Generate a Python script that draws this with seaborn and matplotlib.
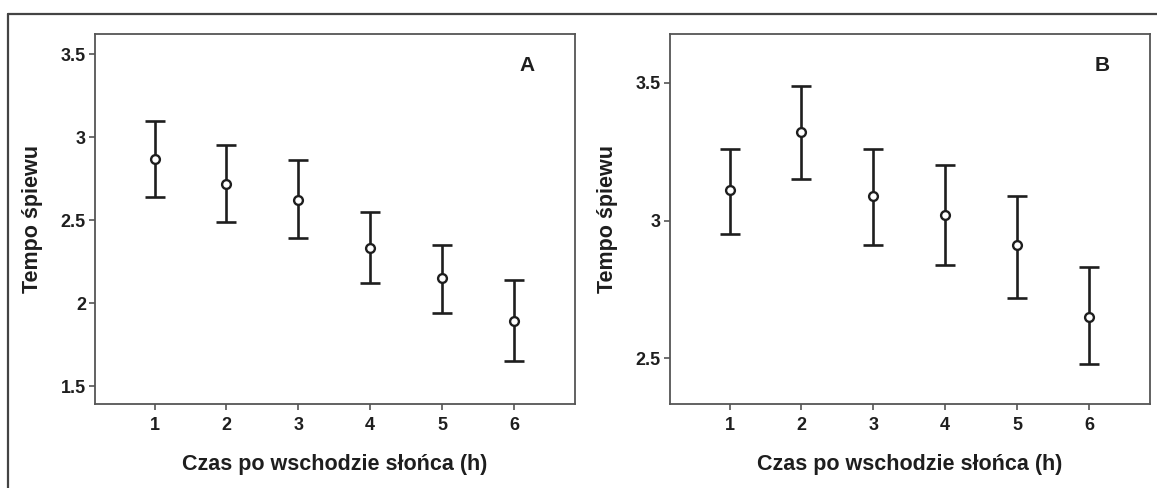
import matplotlib
matplotlib.use("Agg")
import matplotlib.pyplot as plt
from matplotlib.lines import Line2D
import numpy as np
import pandas as pd
import seaborn as sns

# Hours after sunrise
hours = [1, 2, 3, 4, 5, 6]

# Panel A: mean song rate with interval bounds
a_mean = [2.87, 2.72, 2.62, 2.33, 2.15, 1.89]
a_lower = [2.64, 2.49, 2.39, 2.12, 1.94, 1.65]
a_upper = [3.10, 2.95, 2.86, 2.55, 2.35, 2.14]

# Panel B: mean song rate with interval bounds
b_mean = [3.11, 3.32, 3.09, 3.02, 2.91, 2.65]
b_lower = [2.95, 3.15, 2.91, 2.84, 2.72, 2.48]
b_upper = [3.26, 3.49, 3.26, 3.20, 3.09, 2.83]

a_yticks = [1.5, 2, 2.5, 3, 3.5]
a_yticklabels = ["1.5", "2", "2.5", "3", "3.5"]
b_yticks = [2.5, 3, 3.5]
b_yticklabels = ["2.5", "3", "3.5"]

xlabel = "Czas po wschodzie słońca (h)"
ylabel = "Tempo śpiewu"

sns.set_theme(style="ticks")
plt.rcParams["font.family"] = ["Liberation Sans", "DejaVu Sans"]
plt.rcParams["font.weight"] = "bold"

W, H = 1157, 488
fig = plt.figure(figsize=(W / 100, H / 100), dpi=100)
fig.patch.set_facecolor("white")

frame_col = "#555555"
ink = "#1e1e1e"


def px_axes(left, top, right, bottom):
    return fig.add_axes([left / W, 1 - bottom / H, (right - left) / W, (bottom - top) / H])


def draw_panel(ax, mean, lower, upper, ylim, yticks, yticklabels, letter):
    df = pd.DataFrame({"h": hours, "m": mean, "lo": lower, "hi": upper})
    err = np.vstack([df["m"] - df["lo"], df["hi"] - df["m"]])
    ax.errorbar(df["h"], df["m"], yerr=err, fmt="none", ecolor=ink,
                elinewidth=1.9, capsize=7, capthick=1.9, zorder=2)
    sns.scatterplot(data=df, x="h", y="m", ax=ax, marker="o", s=40,
                    facecolor="white", edgecolor=ink, linewidth=1.7, zorder=3)
    ax.set_xlim(0.17, 6.85)
    ax.set_ylim(*ylim)
    ax.set_xticks(hours)
    ax.set_xticklabels([str(h) for h in hours])
    ax.set_yticks(yticks)
    ax.set_yticklabels(yticklabels)
    for s in ax.spines.values():
        s.set_color(frame_col)
        s.set_linewidth(1.3)
    ax.tick_params(axis="both", direction="out", length=4, width=1.2,
                   color=frame_col, labelsize=13, labelcolor=ink, pad=2.5)
    for lab in ax.get_xticklabels() + ax.get_yticklabels():
        lab.set_fontweight("bold")
    ax.tick_params(axis="x", pad=5)
    ax.set_xlabel(xlabel, fontsize=15.5, fontweight="bold", color=ink, labelpad=15)
    ax.set_ylabel(ylabel, fontsize=15.5, fontweight="bold", color=ink, labelpad=13)
    ax.text(0.90, 0.915, letter, transform=ax.transAxes, fontsize=15,
            fontweight="bold", color=ink, ha="center", va="center")
    ax.set_facecolor("white")


ax_a = px_axes(95, 34, 575, 404)
draw_panel(ax_a, a_mean, a_lower, a_upper, (1.392, 3.622), a_yticks, a_yticklabels, "A")

ax_b = px_axes(670, 34, 1150, 404)
draw_panel(ax_b, b_mean, b_lower, b_upper, (2.333, 3.678), b_yticks, b_yticklabels, "B")

# Outer border (top and left edges)
fig.add_artist(Line2D([8 / W, 8 / W], [0, 1 - 14 / H], transform=fig.transFigure,
                      color="#444444", linewidth=1.6))
fig.add_artist(Line2D([8 / W, 1], [1 - 14 / H, 1 - 14 / H], transform=fig.transFigure,
                      color="#444444", linewidth=1.6))

fig.savefig("out.png", dpi=100, facecolor="white")
